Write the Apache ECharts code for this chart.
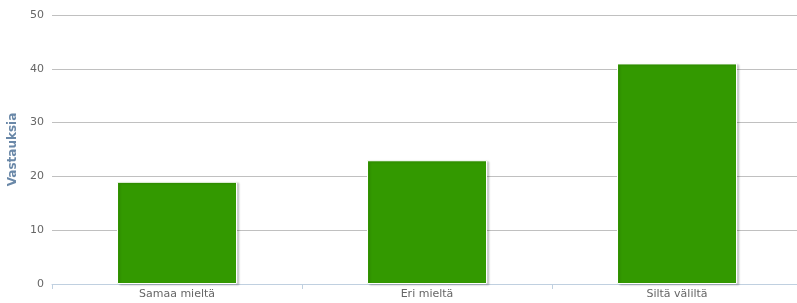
<!DOCTYPE html>
<html>
<head>
<meta charset="utf-8">
<script src="https://cdn.jsdelivr.net/npm/echarts@6/dist/echarts.min.js"></script>
<style>
  html, body { margin: 0; padding: 0; background: #fff; }
  #main { width: 797px; height: 303px; }
</style>
</head>
<body>
<div id="main"></div>
<script>
// data
var categories = ['Samaa mieltä', 'Eri mieltä', 'Siltä väliltä']
var answers = [19, 23, 41]
var yTicks = { min: 0, max: 50, interval: 10 }

var myChart = echarts.init(document.getElementById('main'))

var option = {
  animation: false,
  textStyle: { fontFamily: 'DejaVu Sans' },
  grid: {
    left: 52,
    top: 15,
    width: 750,
    bottom: 19,
    containLabel: false,
    outerBoundsMode: 'none'
  },
  xAxis: {
    type: 'category',
    data: categories,
    axisLine: { lineStyle: { color: '#C0D0E0' } },
    axisTick: { show: true, length: 5, lineStyle: { color: '#C0D0E0' } },
    axisLabel: { color: '#666', fontSize: 11, margin: 5 }
  },
  yAxis: {
    type: 'value',
    min: yTicks.min,
    max: yTicks.max,
    interval: yTicks.interval,
    name: 'Vastauksia',
    nameLocation: 'middle',
    nameGap: 28,
    nameTextStyle: { color: '#6A88A8', fontWeight: 'bold', fontSize: 12 },
    axisLine: { show: false },
    axisTick: { show: false },
    axisLabel: { color: '#666', fontSize: 11, margin: 8 },
    splitLine: { lineStyle: { color: '#C0C0C0' } }
  },
  series: [
    {
      type: 'bar',
      data: answers,
      barWidth: 120,
      itemStyle: {
        color: '#339900',
        borderColor: '#fff',
        borderWidth: 1,
        shadowColor: 'rgba(0,0,0,0.18)',
        shadowBlur: 2,
        shadowOffsetX: 2,
        shadowOffsetY: 1
      }
    }
  ]
}

myChart.setOption(option)
</script>
</body>
</html>
